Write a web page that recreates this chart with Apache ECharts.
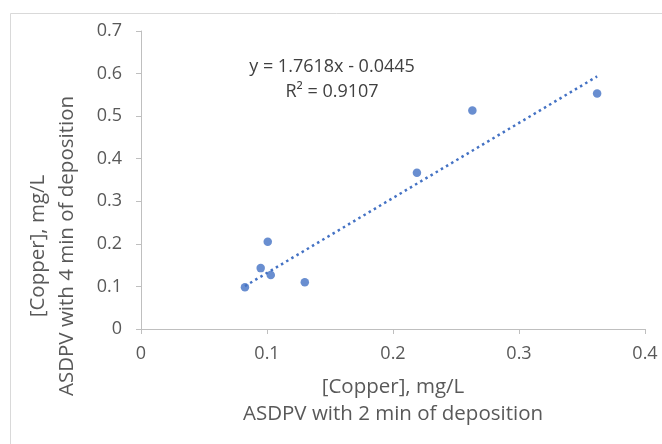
<!DOCTYPE html>
<html>
<head>
<meta charset="utf-8">
<script src="https://cdn.jsdelivr.net/npm/echarts@6/dist/echarts.min.js"></script>
<style>
  html, body { margin: 0; padding: 0; background: #fff; }
  #chart { width: 662px; height: 444px; }
</style>
</head>
<body>
<div id="chart"></div>
<script>
// Copper concentration measured by ASDPV: 2 min deposition (x) vs 4 min deposition (y)
const copper2min = [0.0825, 0.095, 0.1006, 0.103, 0.130, 0.219, 0.263, 0.362];
const copper4min = [0.098, 0.143, 0.205, 0.127, 0.110, 0.367, 0.513, 0.553];

// Linear trendline coefficients and fit quality
const trendSlope = 1.7618;
const trendIntercept = -0.0445;
const trendR2 = 0.9107;

const xTicks = [0, 0.1, 0.2, 0.3, 0.4];
const yTicks = [0, 0.1, 0.2, 0.3, 0.4, 0.5, 0.6, 0.7];

const xTitle = ['[Copper], mg/L', 'ASDPV with 2 min of deposition'];
const yTitle = ['[Copper], mg/L', 'ASDPV with 4 min of deposition'];

const points = copper2min.map((x, i) => [x, copper4min[i]]);
const xMin = Math.min(...copper2min);
const xMax = Math.max(...copper2min);
const trendLine = [xMin, xMax].map(x => [x, trendSlope * x + trendIntercept]);

const FONT = '"Open Sans", "Noto Sans", sans-serif';
const BLUE = '#4472C4';
const TEXT = '#595959';

const chart = echarts.init(document.getElementById('chart'), null, { renderer: 'canvas' });

chart.setOption({
  animation: false,
  backgroundColor: '#ffffff',
  grid: { left: 141, right: 17, top: 31, bottom: 115, containLabel: false },
  xAxis: {
    type: 'value',
    min: xTicks[0],
    max: xTicks[xTicks.length - 1],
    interval: 0.1,
    name: xTitle.join('\n'),
    nameLocation: 'middle',
    nameGap: 45,
    nameTextStyle: { color: TEXT, fontSize: 20.5, fontFamily: FONT, lineHeight: 27 },
    axisLine: { show: true, lineStyle: { color: '#bfbfbf', width: 1 } },
    axisTick: { show: true, inside: false, length: 5, lineStyle: { color: '#bfbfbf' } },
    axisLabel: { color: TEXT, fontSize: 18, fontFamily: FONT, margin: 16 },
    splitLine: { show: false }
  },
  yAxis: {
    type: 'value',
    min: yTicks[0],
    max: yTicks[yTicks.length - 1],
    interval: 0.1,
    axisLine: { show: true, lineStyle: { color: '#bfbfbf', width: 1 } },
    axisTick: { show: true, inside: false, length: 5, lineStyle: { color: '#bfbfbf' } },
    axisLabel: { color: TEXT, fontSize: 18, fontFamily: FONT, margin: 19 },
    splitLine: { show: false }
  },
  graphic: [
    {
      type: 'rect',
      silent: true,
      shape: { x: 10.5, y: 13.5, width: 700, height: 500 },
      style: { fill: 'none', stroke: '#d9d9d9', lineWidth: 1 }
    },
    {
      type: 'text',
      silent: true,
      x: 53,
      y: 246,
      rotation: Math.PI / 2,
      style: {
        text: yTitle.join('\n'),
        fill: TEXT,
        font: '20.5px ' + FONT,
        lineHeight: 29,
        align: 'center',
        verticalAlign: 'middle'
      }
    },
    {
      type: 'text',
      silent: true,
      x: 332,
      y: 79.5,
      style: {
        text: 'y = ' + trendSlope.toFixed(4) + 'x - ' + Math.abs(trendIntercept).toFixed(4) + '\nR² = ' + trendR2.toFixed(4),
        fill: '#404040',
        font: '18px ' + FONT,
        lineHeight: 25,
        align: 'center',
        verticalAlign: 'middle'
      }
    }
  ],
  series: [
    {
      name: 'Trendline',
      type: 'line',
      data: trendLine,
      symbol: 'none',
      silent: true,
      lineStyle: { color: BLUE, width: 2.5, type: [2.5, 3.5], cap: 'butt' },
      z: 2
    },
    {
      name: 'Copper',
      type: 'scatter',
      data: points,
      symbol: 'circle',
      symbolSize: 8.5,
      itemStyle: { color: BLUE },
      z: 3
    }
  ]
});
</script>
</body>
</html>
